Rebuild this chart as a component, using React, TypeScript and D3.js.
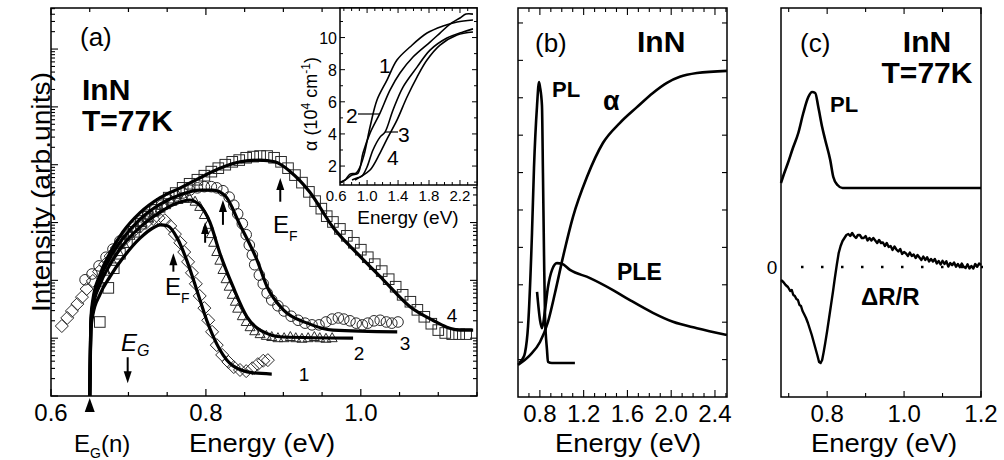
import React from 'react';
import * as d3 from 'd3';

type P = [number, number];

// ---------- Panel (a): PL spectra, [E (eV), log10 intensity] ----------
const fit1: P[] = [[0.650,0],[0.651,0.80],[0.6516,1.14],[0.654,1.40],[0.663,1.75],[0.676,2.06],[0.693,2.39],[0.715,2.73],[0.732,2.91],[0.741,2.96],[0.751,2.94],[0.763,2.73],[0.776,2.32],[0.789,1.80],[0.801,1.31],[0.818,0.80],[0.835,0.52],[0.861,0.40],[0.885,0.38]];
const fit2: P[] = [[0.650,0],[0.651,0.88],[0.6516,1.23],[0.654,1.52],[0.663,1.92],[0.676,2.27],[0.693,2.61],[0.715,2.92],[0.741,3.18],[0.760,3.32],[0.779,3.39],[0.792,3.30],[0.805,3.01],[0.818,2.47],[0.835,1.89],[0.853,1.37],[0.870,1.14],[0.900,1.02],[0.990,1.00]];
const fit3: P[] = [[0.650,0],[0.651,0.93],[0.6516,1.28],[0.654,1.59],[0.663,2.01],[0.676,2.39],[0.693,2.73],[0.715,3.06],[0.741,3.32],[0.767,3.48],[0.792,3.56],[0.809,3.56],[0.825,3.46],[0.844,2.96],[0.866,2.35],[0.879,1.89],[0.900,1.49],[0.931,1.26],[0.964,1.14],[1.047,1.11]];
const fit4: P[] = [[0.650,0],[0.651,0.97],[0.6516,1.35],[0.654,1.66],[0.663,2.09],[0.676,2.47],[0.693,2.84],[0.715,3.17],[0.741,3.43],[0.767,3.60],[0.792,3.77],[0.818,3.94],[0.844,4.05],[0.870,4.08],[0.889,4.05],[0.909,3.88],[0.934,3.53],[0.964,2.92],[0.995,2.47],[1.029,2.01],[1.064,1.54],[1.093,1.31],[1.111,1.19],[1.128,1.14],[1.145,1.14]];

const diamonds1: P[] = [[0.614,1.21],[0.621,1.35],[0.627,1.47],[0.634,1.59],[0.640,1.71],[0.646,1.85],[0.654,1.99],[0.662,2.15],[0.670,2.28],[0.677,2.42],[0.685,2.56],[0.693,2.68],[0.701,2.79],[0.708,2.87],[0.716,2.94],[0.724,3.01],[0.732,3.06],[0.739,3.08],[0.747,3.04],[0.754,2.94],[0.760,2.80],[0.767,2.65],[0.772,2.49],[0.777,2.32],[0.782,2.13],[0.787,1.94],[0.792,1.73],[0.798,1.52],[0.803,1.31],[0.808,1.11],[0.814,0.88],[0.821,0.71],[0.829,0.59],[0.836,0.50],[0.844,0.45],[0.852,0.43],[0.860,0.48],[0.867,0.55],[0.874,0.61],[0.880,0.62]];
const triangles2: P[] = [[0.663,1.96],[0.671,2.15],[0.679,2.32],[0.687,2.49],[0.694,2.63],[0.702,2.77],[0.710,2.89],[0.717,2.99],[0.725,3.08],[0.733,3.17],[0.741,3.24],[0.748,3.30],[0.756,3.36],[0.764,3.39],[0.772,3.41],[0.779,3.41],[0.786,3.36],[0.792,3.27],[0.798,3.13],[0.803,2.96],[0.807,2.80],[0.810,2.65],[0.814,2.49],[0.818,2.34],[0.822,2.18],[0.826,2.02],[0.830,1.89],[0.834,1.75],[0.838,1.63],[0.841,1.51],[0.847,1.38],[0.852,1.28],[0.857,1.19],[0.863,1.12],[0.870,1.07],[0.878,1.04],[0.885,1.02],[0.893,1.00],[0.901,1.00],[0.909,1.02],[0.916,1.00],[0.924,0.99],[0.932,1.00],[0.940,1.02],[0.947,1.00],[0.955,0.99],[0.963,1.00]];
const circles3: P[] = [[0.644,2.01],[0.653,2.11],[0.662,2.25],[0.671,2.40],[0.680,2.54],[0.689,2.68],[0.698,2.80],[0.707,2.92],[0.716,3.03],[0.725,3.13],[0.734,3.22],[0.743,3.30],[0.752,3.39],[0.761,3.46],[0.770,3.51],[0.779,3.56],[0.789,3.60],[0.798,3.62],[0.807,3.62],[0.814,3.60],[0.822,3.55],[0.830,3.44],[0.836,3.30],[0.841,3.15],[0.847,2.98],[0.852,2.79],[0.856,2.61],[0.860,2.44],[0.863,2.27],[0.869,2.09],[0.874,1.94],[0.879,1.78],[0.885,1.66],[0.893,1.56],[0.901,1.47],[0.910,1.38],[0.919,1.31],[0.928,1.26],[0.937,1.23],[0.946,1.23],[0.955,1.28],[0.963,1.33],[0.971,1.35],[0.978,1.33],[0.986,1.30],[0.994,1.26],[1.002,1.23],[1.009,1.26],[1.017,1.30],[1.025,1.31],[1.033,1.28],[1.040,1.26],[1.048,1.28]];
const squares4: P[] = [[0.663,1.28],[0.674,1.87],[0.681,2.21],[0.689,2.46],[0.698,2.66],[0.707,2.84],[0.716,2.98],[0.725,3.10],[0.734,3.22],[0.743,3.32],[0.752,3.43],[0.761,3.51],[0.770,3.60],[0.779,3.67],[0.789,3.74],[0.798,3.81],[0.807,3.88],[0.816,3.94],[0.825,4.00],[0.834,4.05],[0.843,4.08],[0.852,4.12],[0.861,4.14],[0.870,4.15],[0.879,4.15],[0.888,4.12],[0.897,4.05],[0.906,3.94],[0.915,3.82],[0.924,3.69],[0.933,3.53],[0.941,3.37],[0.949,3.24],[0.956,3.11],[0.964,3.01],[0.973,2.89],[0.982,2.77],[0.991,2.65],[1.000,2.53],[1.009,2.40],[1.018,2.28],[1.027,2.16],[1.036,2.02],[1.045,1.89],[1.054,1.75],[1.064,1.63],[1.073,1.49],[1.082,1.37],[1.091,1.25],[1.100,1.14],[1.109,1.09],[1.118,1.07],[1.127,1.07],[1.136,1.07]];

// E_F arrows: [E, tip log10 I, tail log10 I]
const efArrows: [number, number, number][] = [[0.758,2.47,2.15],[0.799,3.01,2.65],[0.822,3.39,2.96],[0.896,3.77,3.36]];
const egArrow: [number, number, number] = [0.699, 0.22, 0.67];
const egN = 0.65;
const xTicksA = [0.6, 0.8, 1.0];

// ---------- Inset: absorption alpha (10^4 cm^-1) ----------
const abs1: P[] = [[0.650,1.00],[0.715,1.13],[0.779,1.50],[0.857,1.56],[0.908,1.94],[0.960,2.68],[1.038,4.43],[1.128,6.11],[1.257,7.35],[1.386,8.60],[1.554,9.41],[1.774,10.28],[1.981,10.72],[2.162,10.97],[2.368,11.09]];
const abs2: P[] = [[0.650,0.94],[0.715,1.13],[0.805,1.44],[0.883,1.56],[0.947,2.81],[1.038,4.05],[1.167,5.30],[1.296,6.73],[1.425,7.79],[1.593,8.79],[1.813,9.72],[1.942,10.28],[2.071,10.84],[2.200,11.22],[2.278,11.46],[2.368,11.46]];
const abs3: P[] = [[0.805,1.13],[0.870,1.25],[0.934,1.38],[0.999,1.94],[1.076,3.00],[1.167,3.80],[1.231,4.11],[1.335,5.49],[1.464,6.92],[1.645,8.16],[1.813,9.22],[2.032,9.97],[2.239,10.35],[2.368,10.54]];
const abs4: P[] = [[0.844,1.13],[0.908,1.31],[1.038,1.75],[1.167,2.81],[1.270,3.80],[1.386,4.86],[1.516,6.30],[1.645,7.54],[1.774,8.60],[1.942,9.53],[2.162,10.16],[2.368,10.35]];
const insetXLabels = [0.6, 1.0, 1.4, 1.8, 2.2];
const insetYLabels = [2, 4, 6, 8, 10];

// ---------- Panel (b) ----------
const plB: P[] = [[0.609,0.91],[0.646,1.04],[0.664,1.18],[0.692,1.90],[0.728,4.39],[0.746,6.12],[0.774,7.79],[0.792,8.42],[0.801,8.29],[0.819,7.79],[0.828,5.99],[0.838,3.77],[0.847,2.14],[0.865,1.26],[0.874,0.94],[0.910,0.91],[0.956,0.91],[1.120,0.91]];
const pleB: P[] = [[0.774,2.81],[0.801,2.06],[0.819,1.84],[0.847,2.33],[0.874,2.94],[0.911,3.40],[0.956,3.58],[1.002,3.56],[1.075,3.40],[1.258,3.18],[1.468,2.86],[1.623,2.59],[1.833,2.25],[2.016,2.01],[2.235,1.84],[2.509,1.66]];
const alphaB: P[] = [[0.600,0.86],[0.710,1.12],[0.801,1.47],[0.874,2.01],[0.938,2.78],[1.011,3.74],[1.102,4.81],[1.230,5.88],[1.376,6.79],[1.532,7.33],[1.687,7.75],[1.833,8.13],[1.961,8.40],[2.079,8.56],[2.235,8.66],[2.509,8.72]];
const xTicksB = [0.8, 1.2, 1.6, 2.0, 2.4];

// ---------- Panel (c) ----------
const plC: P[] = [[0.680,0.84],[0.685,0.90],[0.698,1.04],[0.711,1.19],[0.725,1.34],[0.738,1.54],[0.751,1.70],[0.761,1.75],[0.769,1.74],[0.777,1.60],[0.787,1.40],[0.795,1.27],[0.808,1.07],[0.816,0.90],[0.827,0.82],[0.840,0.79],[1.000,0.79],[1.200,0.79]];
const drC: P[] = [[0.680,-0.13],[0.686,-0.15],[0.692,-0.18],[0.698,-0.20],[0.704,-0.24],[0.708,-0.23],[0.712,-0.28],[0.716,-0.29],[0.720,-0.32],[0.724,-0.33],[0.728,-0.38],[0.732,-0.39],[0.736,-0.44],[0.740,-0.47],[0.745,-0.51],[0.750,-0.56],[0.755,-0.62],[0.760,-0.68],[0.765,-0.75],[0.770,-0.82],[0.775,-0.89],[0.779,-0.95],[0.783,-0.96],[0.787,-0.93],[0.791,-0.85],[0.795,-0.76],[0.800,-0.64],[0.805,-0.51],[0.810,-0.38],[0.815,-0.25],[0.820,-0.11],[0.825,0.02],[0.830,0.14],[0.835,0.21],[0.840,0.26],[0.845,0.29],[0.850,0.32],[0.855,0.33],[0.860,0.31],[0.865,0.34],[0.870,0.31],[0.875,0.29],[0.880,0.32],[0.885,0.32],[0.890,0.29],[0.895,0.29],[0.900,0.31],[0.905,0.265],[0.910,0.29],[0.915,0.265],[0.920,0.29],[0.925,0.265],[0.930,0.24],[0.935,0.27],[0.940,0.24],[0.945,0.245],[0.950,0.21],[0.955,0.24],[0.960,0.20],[0.965,0.21],[0.970,0.17],[0.975,0.205],[0.980,0.175],[0.985,0.155],[0.990,0.18],[0.995,0.13],[1.000,0.15],[1.005,0.135],[1.010,0.11],[1.015,0.145],[1.020,0.11],[1.025,0.125],[1.030,0.09],[1.035,0.12],[1.040,0.095],[1.045,0.07],[1.050,0.105],[1.055,0.07],[1.060,0.098],[1.065,0.055],[1.070,0.08],[1.075,0.055],[1.080,0.08],[1.085,0.035],[1.090,0.06],[1.095,0.025],[1.100,0.062],[1.105,0.03],[1.110,0.057],[1.115,0.004],[1.120,0.04],[1.125,0.018],[1.130,0.045],[1.135,0.003],[1.140,0.03],[1.145,-0.002],[1.150,0.035],[1.155,0.002],[1.160,-0.01],[1.165,0.028],[1.170,-0.015],[1.175,0.01],[1.180,-0.015],[1.185,0.03],[1.190,0.002],[1.195,0.035],[1.200,0.02]];
const xTicksC = [0.8, 1.0, 1.2];

const FONT = "'Liberation Sans', Arial, Helvetica, sans-serif";
const fmt = d3.format('.1f');

export default function App() {
  const xA = d3.scaleLinear().domain([0.6, 1.15]).range([51, 477]);
  const yA = d3.scaleLog().domain([1, Math.pow(10, 6.71)]).range([396, 8]);
  const xI = d3.scaleLinear().domain([0.65, 2.42]).range([340, 477]);
  const yI = d3.scaleLinear().domain([0.82, 11.84]).range([185, 8]);
  const xB = d3.scaleLinear().domain([0.6, 2.51]).range([518, 727]);
  const yB = d3.scaleLinear().domain([0, 10.4]).range([397, 8]);
  const xC = d3.scaleLinear().domain([0.68, 1.2]).range([781, 981]);
  const yC = d3.scaleLinear().domain([-1.3, 2.59]).range([397, 8]);

  const lineA = d3.line<P>().x(d => xA(d[0])).y(d => yA(Math.pow(10, d[1]))).curve(d3.curveMonotoneX);
  const lineI = d3.line<P>().x(d => xI(d[0])).y(d => yI(d[1])).curve(d3.curveCatmullRom);
  const lineB = d3.line<P>().x(d => xB(d[0])).y(d => yB(d[1])).curve(d3.curveMonotoneX);
  const lineC = d3.line<P>().x(d => xC(d[0])).y(d => yC(d[1])).curve(d3.curveMonotoneX);
  const lineCr = d3.line<P>().x(d => xC(d[0])).y(d => yC(d[1]));

  const px = (d: P) => xA(d[0]);
  const py = (d: P) => yA(Math.pow(10, d[1]));

  const mk = { fill: 'none', stroke: '#2a2a2a', strokeWidth: 1 };
  const ax = { fill: 'none', stroke: '#000', strokeWidth: 1.5 };

  const aX = d3.range(0, 12).map(i => 0.6 + i * 0.05);
  const logTicks: { v: number; major: boolean }[] = [];
  for (let d = 0; d <= 6; d++) {
    for (let k = 1; k <= 9; k++) {
      const v = k * Math.pow(10, d);
      if (v <= Math.pow(10, 6.71)) logTicks.push({ v, major: k === 1 });
    }
  }
  const iX = d3.range(1, 18).map(i => 0.6 + i * 0.1);
  const iY = d3.range(1, 12);
  const bX = d3.range(1, 20).map(i => 0.6 + i * 0.1);
  const bY = d3.range(1, 11);
  const cX = d3.range(0, 6).map(i => 0.7 + i * 0.1);

  const arrowUp = (x: number, tip: number, tail: number, key: string) => (
    <g key={key}>
      <line x1={x} x2={x} y1={tail} y2={tip + 8} stroke="#000" strokeWidth={2} />
      <path d={`M${x},${tip} L${x - 4},${tip + 12} L${x + 4},${tip + 12} Z`} fill="#000" />
    </g>
  );

  const egX = xA(egArrow[0]);
  const egTip = yA(Math.pow(10, egArrow[1]));
  const egTail = yA(Math.pow(10, egArrow[2]));

  return (
    <svg width={1004} height={460} style={{ position: 'absolute', left: 0, top: 0, background: '#fff' }} fontFamily={FONT}>
      <rect x={0} y={0} width={1004} height={460} fill="#fff" />

      {/* ================= Panel (a) ================= */}
      <g>
        {aX.map((v, i) => {
          const x = xA(v);
          const len = i % 4 === 0 ? 7 : 4;
          return (
            <g key={'ax' + i}>
              <line x1={x} x2={x} y1={396} y2={396 - len} stroke="#000" strokeWidth={1.2} />
              {x < 340 && <line x1={x} x2={x} y1={8} y2={8 + len} stroke="#000" strokeWidth={1.2} />}
            </g>
          );
        })}
        {logTicks.map((t, i) => {
          const y = yA(t.v);
          const len = t.major ? 7 : 4;
          return (
            <g key={'ay' + i}>
              <line x1={51} x2={51 + len} y1={y} y2={y} stroke="#000" strokeWidth={1.1} />
              {y > 186 && <line x1={477} x2={477 - len} y1={y} y2={y} stroke="#000" strokeWidth={1.1} />}
            </g>
          );
        })}
        {xTicksA.map(v => (
          <text key={'axl' + v} x={xA(v)} y={421} fontSize={24} textAnchor="middle">{fmt(v)}</text>
        ))}

        {squares4.map((d, i) => (
          <rect key={'s' + i} x={px(d) - 5.3} y={py(d) - 5.3} width={10.6} height={10.6} {...mk} />
        ))}
        {circles3.map((d, i) => (
          <circle key={'c' + i} cx={px(d)} cy={py(d)} r={5.3} {...mk} />
        ))}
        {triangles2.map((d, i) => {
          const x = px(d), y = py(d);
          return <path key={'t' + i} d={`M${x},${y - 5.5} L${x + 5},${y + 3.5} L${x - 5},${y + 3.5} Z`} {...mk} />;
        })}
        {diamonds1.map((d, i) => {
          const x = px(d), y = py(d);
          return <path key={'d' + i} d={`M${x},${y - 6.5} L${x + 6.5},${y} L${x},${y + 6.5} L${x - 6.5},${y} Z`} {...mk} />;
        })}

        {[fit1, fit2, fit3, fit4].map((f, i) => (
          <path key={'f' + i} d={lineA(f) || ''} fill="none" stroke="#000" strokeWidth={3.2} strokeLinejoin="round" />
        ))}

        {efArrows.map((a, i) => arrowUp(xA(a[0]), yA(Math.pow(10, a[1])), yA(Math.pow(10, a[2])), 'ef' + i))}
        <line x1={egX} x2={egX} y1={egTail} y2={egTip - 8} stroke="#000" strokeWidth={2} />
        <path d={`M${egX},${egTip} L${egX - 4},${egTip - 12} L${egX + 4},${egTip - 12} Z`} fill="#000" />
        <path d={`M${xA(egN)},398 L${xA(egN) - 5},412 L${xA(egN) + 5},412 Z`} fill="#000" />

        <text x={80} y={46} fontSize={26}>(a)</text>
        <text x={82} y={100} fontSize={30} fontWeight="bold">InN</text>
        <text x={82} y={131} fontSize={30} fontWeight="bold">T=77K</text>
        <text x={165} y={295} fontSize={24}>E<tspan fontSize={14} dy={8}>F</tspan></text>
        <text x={273} y={233} fontSize={24}>E<tspan fontSize={14} dy={8}>F</tspan></text>
        <text x={121} y={351} fontSize={24} fontStyle="italic">E<tspan fontSize={16} dy={5}>G</tspan></text>
        <text x={74} y={452} fontSize={24}>E<tspan fontSize={14} dy={6}>G</tspan><tspan dy={-6}>(n)</tspan></text>
        <text x={304} y={381} fontSize={19} textAnchor="middle">1</text>
        <text x={359} y={360} fontSize={19} textAnchor="middle">2</text>
        <text x={405} y={350} fontSize={19} textAnchor="middle">3</text>
        <text x={452} y={322} fontSize={19} textAnchor="middle">4</text>
        <text x={262} y={452} fontSize={25} textAnchor="middle" textLength={146} lengthAdjust="spacingAndGlyphs">Energy (eV)</text>
        <text transform="translate(50,192) rotate(-90)" fontSize={25} textAnchor="middle" textLength={240} lengthAdjust="spacingAndGlyphs">Intensity (arb.units)</text>
        <rect x={51} y={8} width={426} height={388} {...ax} />
      </g>

      {/* ================= Inset ================= */}
      <g>
        <rect x={340} y={8} width={137} height={177} fill="#fff" stroke="none" />
        {iX.map((v, i) => {
          const x = xI(v);
          if (x < 341 || x > 476) return null;
          const major = [1.0, 1.4, 1.8, 2.2].some(m => Math.abs(m - v) < 1e-6);
          const len = major ? 5 : 3;
          return (
            <g key={'ix' + i}>
              <line x1={x} x2={x} y1={185} y2={185 - len} stroke="#000" strokeWidth={1} />
              <line x1={x} x2={x} y1={8} y2={8 + len} stroke="#000" strokeWidth={1} />
            </g>
          );
        })}
        {iY.map(v => {
          const y = yI(v);
          const len = v % 2 === 0 ? 5 : 3;
          return (
            <g key={'iy' + v}>
              <line x1={340} x2={340 + len} y1={y} y2={y} stroke="#000" strokeWidth={1} />
              <line x1={477} x2={477 - len} y1={y} y2={y} stroke="#000" strokeWidth={1} />
            </g>
          );
        })}
        {insetYLabels.map(v => (
          <text key={'iyl' + v} x={337} y={yI(v) + 6} fontSize={16} textAnchor="end">{v}</text>
        ))}
        {insetXLabels.map(v => (
          <text key={'ixl' + v} x={xI(v)} y={201} fontSize={15} textAnchor="middle">{fmt(v)}</text>
        ))}
        {[abs1, abs2, abs3, abs4].map((c, i) => (
          <path key={'ab' + i} d={lineI(c) || ''} fill="none" stroke="#000" strokeWidth={1.6} />
        ))}
        <line x1={358} x2={380} y1={114} y2={114} stroke="#000" strokeWidth={1.2} />
        <line x1={385} x2={398} y1={132} y2={132} stroke="#000" strokeWidth={1.2} />
        <text x={379} y={73} fontSize={21}>1</text>
        <text x={346} y={123} fontSize={21}>2</text>
        <text x={398} y={142} fontSize={21}>3</text>
        <text x={387} y={165} fontSize={21}>4</text>
        <text x={408} y={224} fontSize={19} textAnchor="middle">Energy (eV)</text>
        <text transform="translate(317,104) rotate(-90)" fontSize={18} textAnchor="middle">
          α (10<tspan fontSize={12} dy={-7}>4</tspan><tspan dy={7}> cm</tspan><tspan fontSize={12} dy={-7}>-1</tspan><tspan dy={7}>)</tspan>
        </text>
        <rect x={340} y={8} width={137} height={177} {...ax} />
      </g>

      {/* ================= Panel (b) ================= */}
      <g>
        {bX.map((v, i) => {
          const x = xB(v);
          const major = xTicksB.some(m => Math.abs(m - v) < 1e-6);
          const len = major ? 7 : 4;
          return (
            <g key={'bx' + i}>
              <line x1={x} x2={x} y1={397} y2={397 - len} stroke="#000" strokeWidth={1.1} />
              <line x1={x} x2={x} y1={8} y2={8 + len} stroke="#000" strokeWidth={1.1} />
            </g>
          );
        })}
        {bY.map(v => (
          <g key={'by' + v}>
            <line x1={518} x2={523} y1={yB(v)} y2={yB(v)} stroke="#000" strokeWidth={1.1} />
            <line x1={727} x2={722} y1={yB(v)} y2={yB(v)} stroke="#000" strokeWidth={1.1} />
          </g>
        ))}
        {xTicksB.map(v => (
          <text key={'bxl' + v} x={xB(v)} y={422} fontSize={24} textAnchor="middle">{fmt(v)}</text>
        ))}
        {[plB, pleB, alphaB].map((c, i) => (
          <path key={'bc' + i} d={lineB(c) || ''} fill="none" stroke="#000" strokeWidth={2.6} strokeLinejoin="round" />
        ))}
        <text x={535} y={52} fontSize={26}>(b)</text>
        <text x={637} y={52} fontSize={30} fontWeight="bold">InN</text>
        <text x={552} y={97} fontSize={22} fontWeight="bold">PL</text>
        <text x={603} y={110} fontSize={27} fontWeight="bold">α</text>
        <text x={617} y={280} fontSize={23} fontWeight="bold">PLE</text>
        <text x={628} y={452} fontSize={25} textAnchor="middle" textLength={146} lengthAdjust="spacingAndGlyphs">Energy (eV)</text>
        <rect x={518} y={8} width={209} height={389} {...ax} />
      </g>

      {/* ================= Panel (c) ================= */}
      <g>
        {cX.map((v, i) => {
          const x = xC(v);
          const major = xTicksC.some(m => Math.abs(m - v) < 1e-6);
          const len = major ? 6 : 4;
          return (
            <g key={'cx' + i}>
              <line x1={x} x2={x} y1={397} y2={397 - len} stroke="#000" strokeWidth={1.1} />
              <line x1={x} x2={x} y1={8} y2={8 + len} stroke="#000" strokeWidth={1.1} />
            </g>
          );
        })}
        {xTicksC.map(v => (
          <text key={'cxl' + v} x={xC(v)} y={422} fontSize={24} textAnchor="middle">{fmt(v)}</text>
        ))}
        <line x1={801} x2={983} y1={yC(0)} y2={yC(0)} stroke="#000" strokeWidth={2.5} strokeDasharray="2.5 17.5" />
        <text x={772} y={yC(0) + 7} fontSize={19} textAnchor="middle">0</text>
        <path d={lineC(plC) || ''} fill="none" stroke="#000" strokeWidth={2.6} strokeLinejoin="round" />
        <path d={lineCr(drC) || ''} fill="none" stroke="#000" strokeWidth={2.4} strokeLinejoin="round" />
        <text x={800} y={52} fontSize={26}>(c)</text>
        <text x={927} y={52} fontSize={30} fontWeight="bold" textAnchor="middle">InN</text>
        <text x={927} y={83} fontSize={30} fontWeight="bold" textAnchor="middle">T=77K</text>
        <text x={830} y={112} fontSize={22} fontWeight="bold">PL</text>
        <text x={861} y={305} fontSize={24} fontWeight="bold">ΔR/R</text>
        <text x={884} y={452} fontSize={25} textAnchor="middle" textLength={146} lengthAdjust="spacingAndGlyphs">Energy (eV)</text>
        <rect x={781} y={8} width={200} height={389} {...ax} />
      </g>
    </svg>
  );
}
